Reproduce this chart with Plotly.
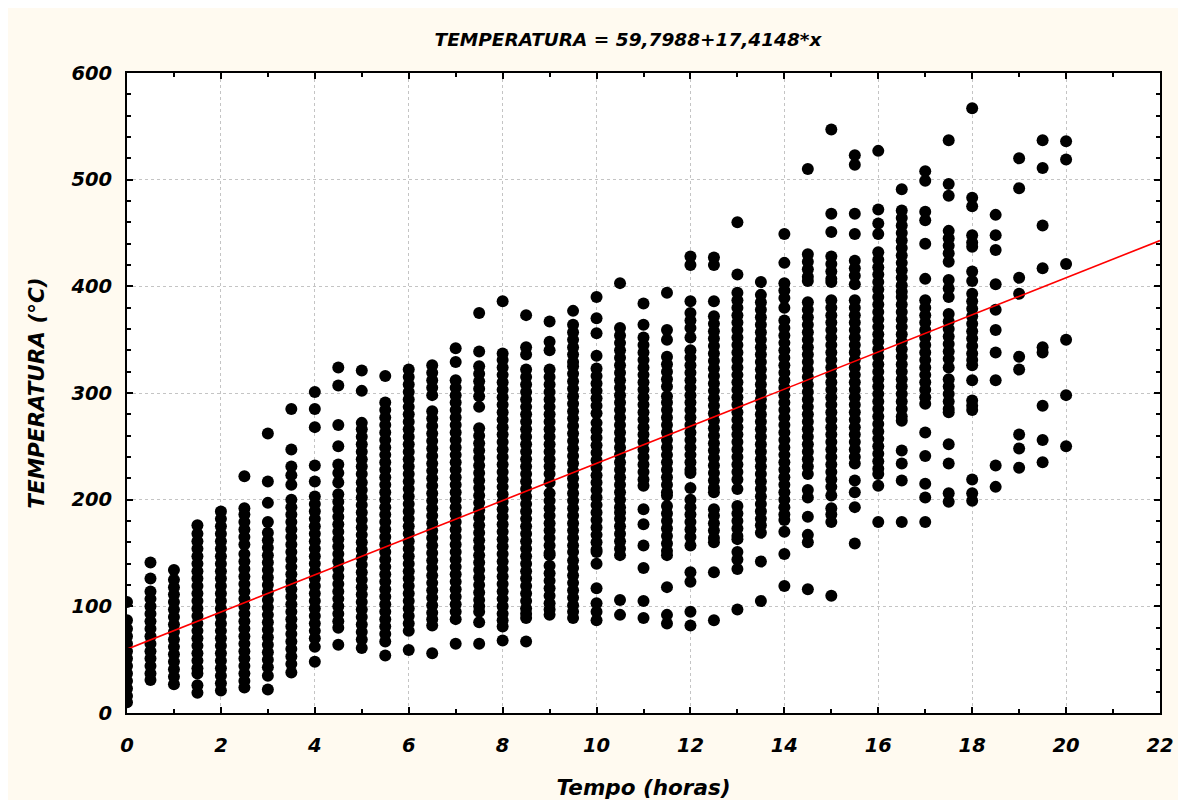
import plotly.graph_objects as go

# ---- data: temperature readings per time column (hours) ----
t_00 = [104, 87, 79, 72, 65, 58, 51, 44, 37, 30, 23, 16, 10]
t_05 = [141, 126, 114, 107, 100, 93, 86, 79, 72, 65, 58, 51, 44, 37, 31]
t_10 = [134, 125, 118, 111, 104, 97, 90, 83, 76, 69, 62, 55, 48, 41, 34, 27]
t_15 = [176, 168, 161, 154, 147, 140, 133, 126, 119, 112, 105, 98, 91, 84, 77, 70, 63, 56, 49, 42, 37, 26, 19]
t_20 = [189, 182, 175, 168, 161, 154, 147, 140, 133, 126, 119, 112, 105, 98, 91, 84, 77, 70, 63, 56, 49, 42, 35, 28, 21]
t_25 = [222, 192, 186, 179, 172, 165, 158, 149, 142, 135, 128, 121, 114, 107, 100, 93, 86, 79, 72, 65, 58, 51, 44, 37, 30, 24]
t_30 = [262, 217, 197, 179, 169, 162, 155, 148, 141, 134, 127, 120, 113, 106, 99, 92, 85, 78, 71, 64, 57, 50, 43, 35, 22]
t_35 = [285, 247, 231, 223, 214, 200, 193, 186, 179, 172, 165, 158, 151, 144, 137, 130, 123, 116, 109, 102, 95, 88, 81, 74, 67, 60, 53, 46, 38]
t_40 = [301, 285, 268, 232, 217, 203, 196, 189, 182, 175, 168, 161, 154, 147, 140, 133, 126, 119, 112, 105, 98, 91, 84, 77, 70, 62, 48]
t_45 = [324, 307, 270, 250, 233, 225, 216, 205, 198, 191, 184, 177, 170, 163, 156, 149, 142, 135, 128, 121, 114, 107, 100, 93, 86, 80, 64]
t_50 = [321, 302, 272, 266, 259, 252, 245, 238, 231, 224, 216, 209, 202, 195, 188, 181, 174, 167, 160, 153, 146, 139, 132, 125, 118, 111, 104, 97, 90, 83, 76, 69, 61]
t_55 = [316, 291, 284, 277, 270, 263, 256, 249, 242, 235, 228, 221, 214, 207, 200, 193, 186, 179, 172, 165, 158, 151, 144, 137, 130, 123, 116, 109, 102, 95, 88, 81, 74, 67, 54]
t_60 = [322, 315, 308, 301, 294, 287, 280, 273, 266, 259, 252, 245, 238, 231, 224, 217, 210, 203, 196, 189, 182, 175, 168, 161, 154, 147, 140, 133, 126, 119, 112, 105, 98, 91, 84, 77, 59]
t_65 = [326, 319, 312, 305, 298, 283, 276, 269, 262, 255, 248, 241, 234, 227, 220, 213, 206, 199, 192, 185, 178, 171, 164, 157, 150, 143, 136, 129, 122, 115, 108, 101, 94, 88, 82, 56]
t_70 = [342, 329, 312, 305, 298, 291, 284, 277, 270, 263, 256, 249, 242, 235, 228, 221, 214, 207, 200, 193, 186, 179, 172, 165, 158, 151, 144, 137, 130, 123, 116, 109, 102, 95, 88, 65]
t_75 = [375, 339, 325, 318, 311, 304, 297, 287, 267, 260, 253, 246, 239, 232, 225, 218, 211, 204, 197, 190, 183, 176, 169, 162, 155, 148, 141, 134, 127, 120, 113, 106, 100, 95, 85, 65]
t_80 = [386, 337, 331, 324, 317, 310, 303, 296, 289, 282, 275, 268, 261, 254, 247, 240, 233, 226, 219, 212, 205, 198, 191, 184, 177, 170, 163, 156, 149, 142, 135, 128, 121, 114, 107, 100, 93, 87, 81, 68]
t_85 = [373, 343, 336, 322, 315, 308, 301, 294, 287, 280, 273, 266, 259, 252, 245, 238, 231, 224, 217, 210, 203, 196, 189, 182, 175, 168, 161, 154, 147, 140, 133, 126, 119, 112, 105, 98, 93, 89, 67]
t_90 = [367, 348, 340, 322, 315, 308, 301, 294, 287, 280, 273, 266, 259, 252, 245, 238, 231, 224, 216, 206, 199, 192, 185, 178, 171, 164, 157, 150, 148, 138, 131, 124, 117, 110, 103, 97, 92]
t_95 = [377, 364, 357, 350, 343, 336, 329, 325, 318, 311, 304, 297, 290, 283, 276, 269, 262, 255, 248, 241, 234, 227, 220, 213, 206, 199, 192, 185, 178, 171, 164, 157, 151, 143, 136, 129, 122, 115, 108, 101, 95, 89]
t_100 = [390, 370, 356, 335, 323, 316, 309, 302, 295, 288, 281, 272, 265, 258, 251, 244, 237, 230, 223, 216, 209, 202, 195, 188, 181, 174, 167, 160, 153, 151, 140, 117, 103, 95, 87]
t_105 = [403, 361, 354, 347, 340, 333, 326, 319, 312, 305, 298, 291, 284, 277, 270, 263, 256, 249, 242, 235, 228, 221, 214, 207, 200, 193, 188, 182, 175, 168, 161, 154, 148, 106, 92]
t_110 = [384, 364, 352, 345, 338, 331, 324, 317, 310, 303, 296, 289, 282, 275, 268, 261, 254, 247, 240, 233, 226, 219, 213, 191, 177, 157, 136, 105, 89]
t_115 = [394, 359, 350, 334, 327, 320, 313, 306, 297, 291, 284, 277, 270, 263, 256, 249, 242, 235, 228, 221, 214, 207, 204, 194, 187, 180, 173, 166, 159, 152, 148, 118, 92, 84]
t_120 = [428, 420, 386, 375, 368, 361, 352, 340, 333, 326, 319, 312, 305, 298, 291, 284, 277, 270, 263, 256, 249, 242, 235, 228, 225, 211, 200, 193, 186, 179, 172, 165, 157, 132, 123, 95, 82]
t_125 = [427, 420, 386, 372, 365, 358, 351, 344, 337, 330, 323, 316, 309, 302, 295, 288, 281, 274, 267, 260, 253, 246, 239, 232, 225, 218, 211, 207, 191, 185, 178, 171, 164, 160, 132, 87]
t_130 = [460, 411, 394, 387, 380, 373, 366, 359, 352, 345, 338, 331, 324, 317, 310, 303, 296, 289, 282, 275, 268, 261, 254, 247, 240, 233, 226, 219, 210, 194, 187, 180, 173, 166, 163, 151, 144, 135, 97]
t_135 = [404, 392, 385, 378, 371, 364, 357, 350, 343, 336, 329, 322, 315, 308, 301, 294, 287, 280, 273, 266, 259, 252, 245, 238, 231, 224, 217, 210, 203, 196, 189, 182, 176, 169, 142, 105]
t_140 = [449, 422, 403, 396, 389, 380, 368, 361, 354, 347, 340, 333, 326, 319, 312, 305, 298, 291, 284, 277, 270, 263, 256, 249, 242, 235, 228, 221, 214, 207, 200, 193, 186, 181, 170, 149, 119]
t_145 = [510, 430, 423, 416, 409, 405, 385, 378, 371, 364, 357, 350, 343, 336, 329, 322, 315, 308, 301, 294, 287, 280, 273, 266, 259, 252, 245, 238, 231, 224, 209, 202, 184, 167, 160, 116]
t_150 = [547, 468, 451, 428, 421, 414, 407, 404, 387, 380, 373, 366, 359, 352, 345, 338, 331, 324, 317, 310, 303, 296, 289, 282, 275, 268, 261, 254, 247, 240, 233, 226, 219, 212, 204, 192, 186, 179, 110]
t_155 = [523, 514, 468, 449, 424, 417, 410, 402, 387, 380, 373, 366, 359, 352, 345, 338, 331, 324, 317, 310, 303, 296, 289, 282, 275, 268, 261, 254, 247, 240, 234, 218, 207, 193, 159]
t_160 = [527, 472, 459, 449, 432, 425, 418, 411, 404, 397, 390, 383, 376, 369, 362, 355, 348, 341, 334, 327, 320, 313, 306, 299, 292, 285, 278, 271, 264, 257, 250, 243, 236, 229, 224, 213, 179]
t_165 = [491, 471, 464, 457, 450, 443, 436, 429, 422, 415, 408, 401, 395, 390, 383, 376, 369, 362, 355, 348, 341, 334, 327, 320, 313, 306, 299, 292, 285, 278, 274, 246, 234, 218, 179]
t_170 = [508, 499, 470, 462, 440, 407, 387, 380, 373, 366, 359, 352, 345, 338, 331, 324, 317, 310, 303, 296, 290, 263, 241, 215, 202, 179]
t_175 = [537, 496, 485, 452, 445, 438, 431, 423, 406, 398, 390, 374, 367, 360, 353, 346, 339, 332, 324, 313, 306, 299, 292, 285, 282, 252, 234, 206, 198]
t_180 = [567, 483, 475, 448, 441, 437, 414, 405, 393, 386, 379, 372, 365, 358, 351, 344, 337, 331, 326, 312, 293, 288, 284, 219, 206, 199]
t_185 = [467, 448, 434, 402, 378, 359, 338, 312, 232, 212]
t_190 = [520, 492, 408, 393, 334, 322, 261, 248, 230]
t_195 = [537, 511, 457, 417, 343, 338, 288, 256, 235]
t_200 = [536, 519, 421, 350, 298, 250]

hours = [0, 0.5, 1, 1.5, 2, 2.5, 3, 3.5, 4, 4.5, 5, 5.5, 6, 6.5, 7, 7.5, 8, 8.5, 9, 9.5,
         10, 10.5, 11, 11.5, 12, 12.5, 13, 13.5, 14, 14.5, 15, 15.5, 16, 16.5, 17, 17.5,
         18, 18.5, 19, 19.5, 20]
columns = [t_00, t_05, t_10, t_15, t_20, t_25, t_30, t_35, t_40, t_45, t_50, t_55, t_60,
           t_65, t_70, t_75, t_80, t_85, t_90, t_95, t_100, t_105, t_110, t_115, t_120,
           t_125, t_130, t_135, t_140, t_145, t_150, t_155, t_160, t_165, t_170, t_175,
           t_180, t_185, t_190, t_195, t_200]

# regression  TEMPERATURA = 59,7988 + 17,4148*x
intercept = 59.7988
slope = 17.4148
fit_x = [0, 22]

xs, ys = [], []
for h, col in zip(hours, columns):
    xs.extend([h] * len(col))
    ys.extend(col)

fit_y = [intercept + slope * v for v in fit_x]

FONT = "DejaVu Sans"

fig = go.Figure()
fig.add_trace(go.Scatter(x=xs, y=ys, mode="markers",
                         marker=dict(color="black", size=12, line=dict(width=0)),
                         showlegend=False, hoverinfo="x+y"))
fig.add_trace(go.Scatter(x=fit_x, y=fit_y, mode="lines",
                         line=dict(color="#ff0000", width=1.6),
                         showlegend=False, hoverinfo="skip"))

# page body adds an 8px offset; figure sized so the cream panel ends near the window edge
W, H = 1174, 792
L, T = 119, 65
PW, PH = 1033, 640
R = W - L - PW
B = H - T - PH

axis_common = dict(
    showline=True, linecolor="black", linewidth=2, mirror="allticks",
    ticks="inside", ticklen=6, tickwidth=1.5, tickcolor="black",
    showgrid=True, gridcolor="#c4c4c4", griddash="dot", gridwidth=1,
    zeroline=False,
    tickfont=dict(family=FONT, size=19.5, color="black", weight="bold", style="italic"),
)

fig.update_layout(
    width=W, height=H,
    margin=dict(l=L, r=R, t=T, b=B, autoexpand=False),
    paper_bgcolor="#fffaf0", plot_bgcolor="white",
    title=dict(text="TEMPERATURA = 59,7988+17,4148*x",
               x=(628 - 8) / W, xanchor="center", y=1 - (40 - 8) / H, yanchor="middle",
               font=dict(family=FONT, size=18.5, color="black", weight="bold", style="italic")),
    xaxis=dict(range=[0, 22], dtick=2, tick0=0,
               minor=dict(dtick=1, ticks="inside", ticklen=4, tickcolor="black", showgrid=False),
               ticklabelstandoff=14,
               title=dict(text="Tempo (horas)", standoff=24,
                          font=dict(family=FONT, size=21.5, color="black", weight="bold", style="italic")),
               **axis_common),
    yaxis=dict(range=[0, 600], dtick=100, tick0=0,
               minor=dict(dtick=20, ticks="inside", ticklen=4, tickcolor="black", showgrid=False),
               ticklabelstandoff=9,
               title=dict(text="TEMPERATURA (°C)", standoff=20,
                          font=dict(family=FONT, size=21.5, color="black", weight="bold", style="italic")),
               **axis_common),
)

fig.write_html("out.html")
